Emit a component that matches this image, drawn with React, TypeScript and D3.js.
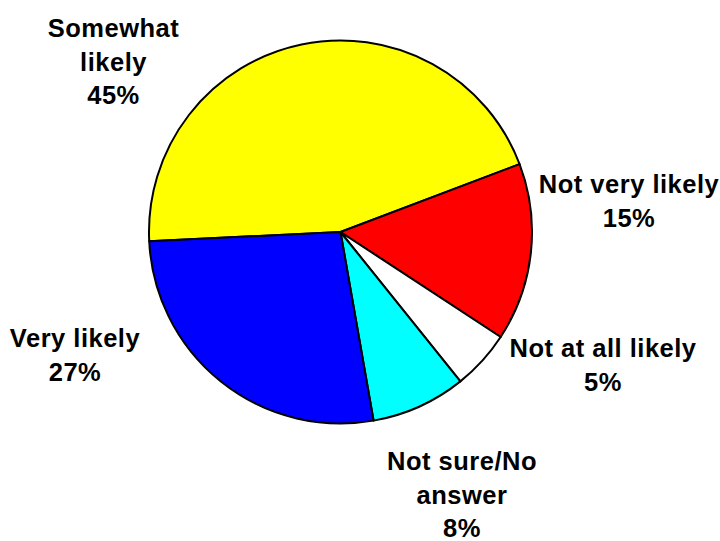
import React from "react";
import * as d3 from "d3";

const categories = ["Somewhat likely", "Not very likely", "Not at all likely", "Not sure/No answer", "Very likely"];
const values = [45, 15, 5, 8, 27];
const colors = ["#FFFF00", "#FF0000", "#FFFFFF", "#00FFFF", "#0000FF"];
const labelLines = [
  ["Somewhat", "likely", "45%"],
  ["Not very likely", "15%"],
  ["Not at all likely", "5%"],
  ["Not sure/No", "answer", "8%"],
  ["Very likely", "27%"],
];

// layout (label anchor: center x, first baseline y)
const labelPos: [number, number][] = [
  [113.5, 37],
  [629, 193],
  [603, 357],
  [462, 470],
  [75, 347],
];

const W = 720;
const H = 541;
const cx = 340.5;
const cy = 232;
const R = 191.5;
const LINE = 33.5;

export default function App() {
  const pie = d3
    .pie<number>()
    .sort(null)
    .value((d) => d)
    .startAngle((-92.75 * Math.PI) / 180)
    .endAngle(((360 - 92.75) * Math.PI) / 180);
  const arcs = pie(values);
  const arc = d3.arc<d3.PieArcDatum<number>>().innerRadius(0).outerRadius(R);

  return (
    <svg
      width={W}
      height={H}
      style={{ position: "absolute", left: 0, top: 0, display: "block", background: "#fff" }}
    >
      <g transform={`translate(${cx},${cy})`}>
        {arcs.map((a, i) => (
          <path
            key={categories[i]}
            d={arc(a) || ""}
            fill={colors[i]}
            stroke="#000"
            strokeWidth={2}
            strokeLinejoin="round"
          />
        ))}
      </g>
      {labelLines.map((lines, i) => (
        <text
          key={categories[i]}
          x={labelPos[i][0]}
          y={labelPos[i][1]}
          textAnchor="middle"
          fontFamily="'Liberation Sans', Arial, sans-serif"
          fontWeight="bold"
          fontSize={25.5}
          letterSpacing={0.5}
          fill="#000"
        >
          {lines.map((l, j) => (
            <tspan key={j} x={labelPos[i][0]} dy={j === 0 ? 0 : LINE}>
              {l}
            </tspan>
          ))}
        </text>
      ))}
    </svg>
  );
}
